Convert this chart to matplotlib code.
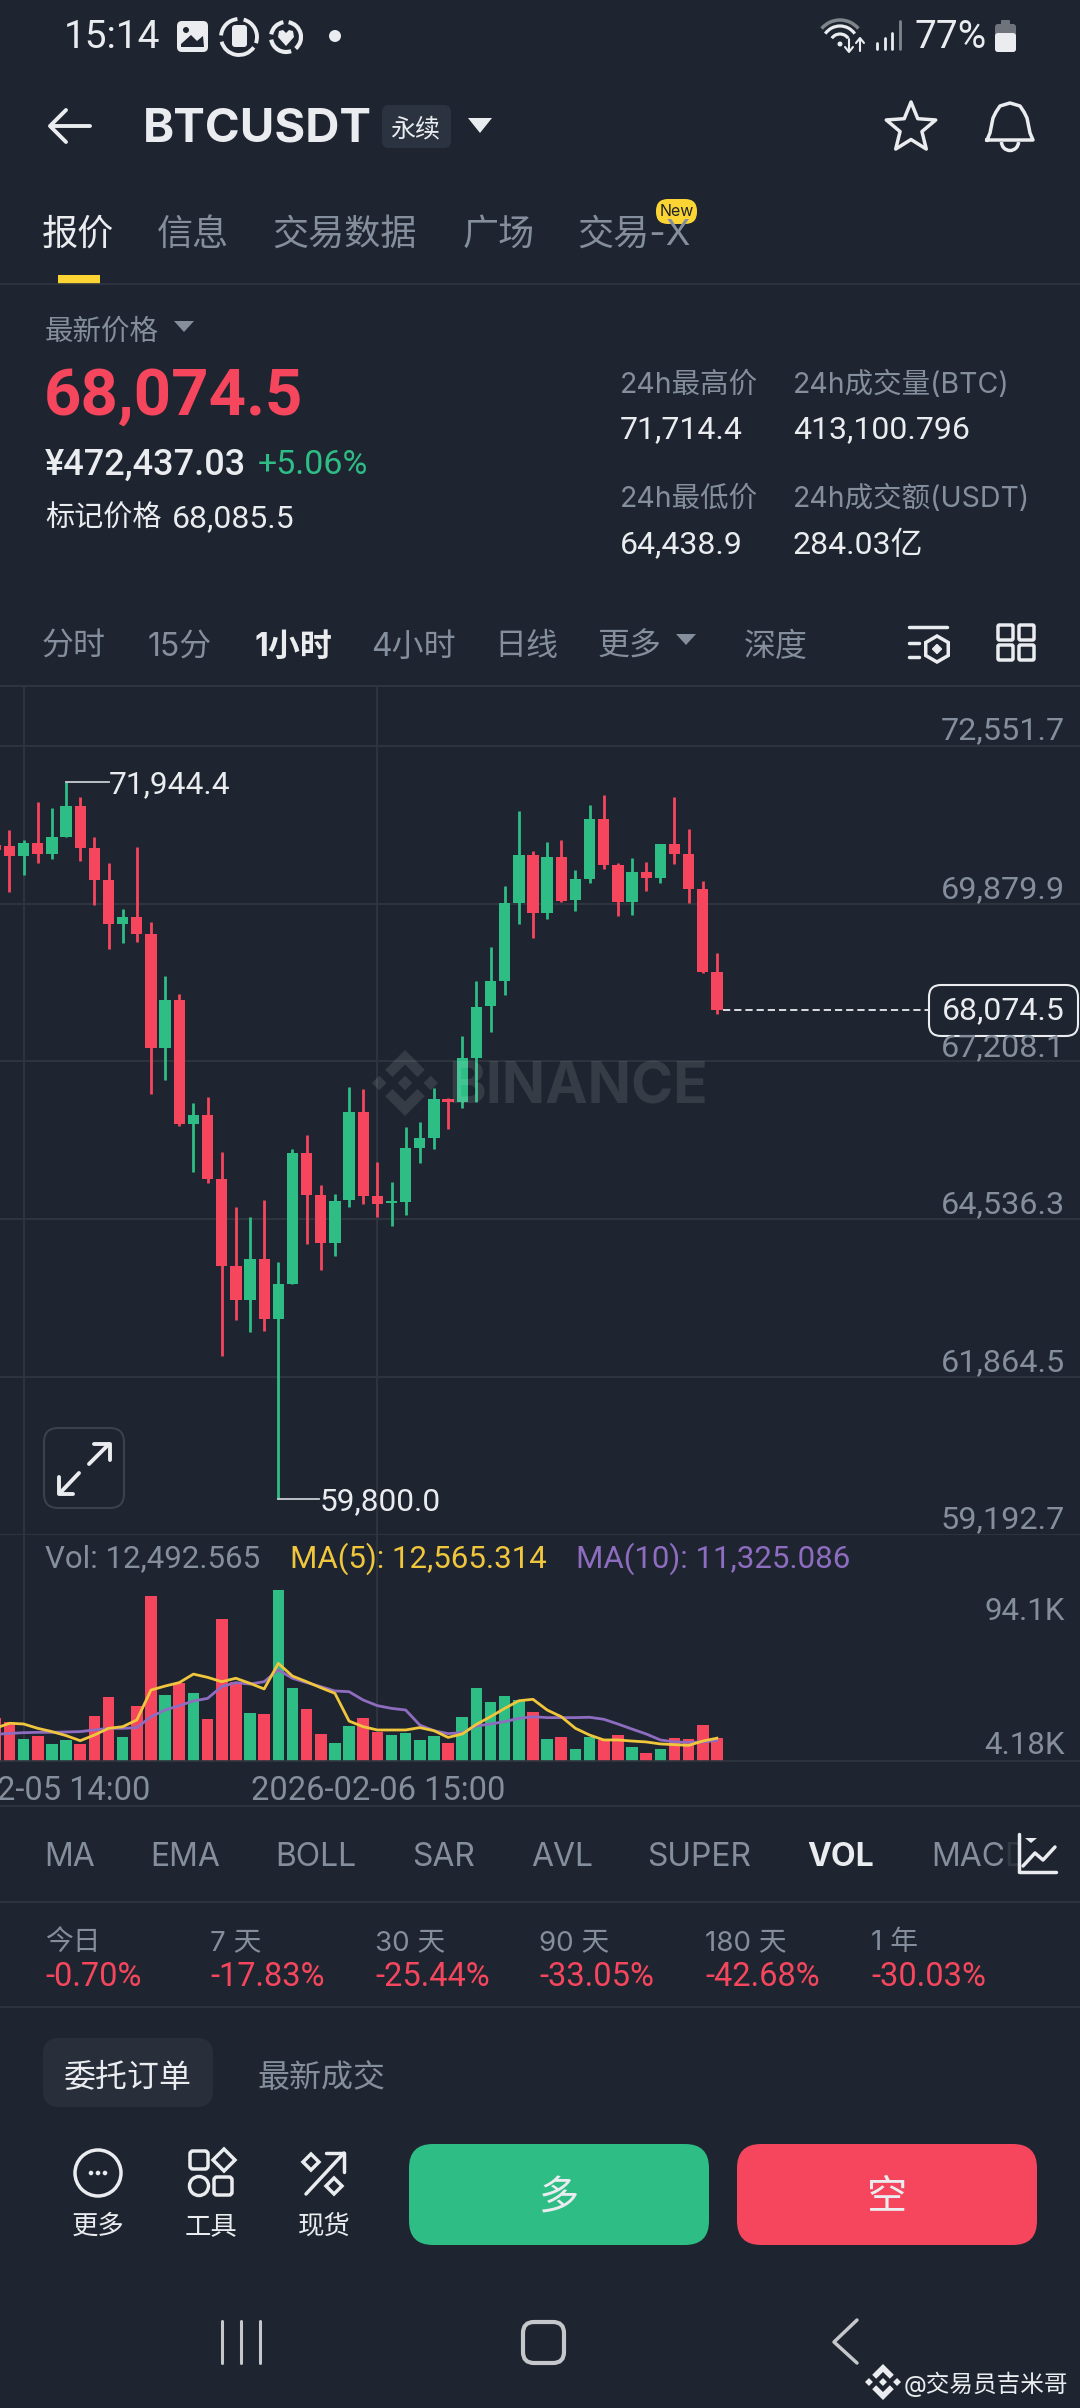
import numpy as np
import matplotlib
matplotlib.use("Agg")
import matplotlib.pyplot as plt
from matplotlib.patches import FancyBboxPatch, Circle, Polygon, Rectangle, Ellipse, Arc

plt.rcParams['font.family'] = ['Inter', 'Noto Sans CJK SC', 'DejaVu Sans']
NUM = ['Roboto', 'Noto Sans CJK SC', 'DejaVu Sans']

BG = '#1e2530'
GRID = '#30363f'
GRAY = '#848e9c'
WHITE = '#eaecef'
RED = '#f6465d'
GREEN = '#2ebd85'
YELLOW = '#f0c63c'
PURPLE = '#8e6cc0'

# hourly candles
opens = [70871, 70860, 70691, 70900, 70713, 71012, 71526, 70815, 70273, 69529, 69653, 69359, 67441,
         68248, 66144, 66302, 65218, 63746, 63170, 63864, 62855, 63447, 65653, 64942, 64130, 64863,
         66352, 64936, 64807, 64835, 65749, 65918, 66578, 66516, 67272, 68141, 68575, 69884, 70696,
         69720, 70668, 69940, 70302, 71311, 70533, 69912, 70420, 70318, 70883, 70719, 70121, 68728]
highs = [71210, 71125, 70956, 71593, 71503, 71944.4, 71689, 71012, 70561, 69788, 70843, 69563, 68654,
         68344, 66499, 66612, 65670, 64750, 64581, 64863, 63808, 65726, 65963, 65117, 64964, 66770,
         66736, 65500, 65162, 66104, 66189, 66753, 66584, 67644, 68575, 69151, 70177, 71447, 70770,
         70916, 70956, 70448, 71543, 71718, 70561, 70657, 70589, 70883, 71689, 71142, 70268, 69049]
lows = [70730, 70082, 70364, 70572, 70629, 71012, 70606, 69856, 69105, 69218, 69235, 66657, 66894,
        66121, 65342, 65145, 62223, 62832, 62623, 62646, 59800, 63447, 64113, 63678, 63915, 64750,
        64795, 64570, 64423, 64609, 65484, 65720, 66065, 66426, 66516, 67712, 68333, 69529, 69292,
        69613, 69912, 69754, 70223, 70459, 69670, 69687, 70093, 70223, 70550, 69884, 68699, 68011]
closes = [70787, 70691, 70900, 70713, 71012, 71526, 70815, 70279, 69529, 69653, 69359, 67441, 68248,
          66144, 66302, 65218, 63746, 63170, 63864, 62855, 63447, 65653, 64942, 64130, 64852, 66352,
          64931, 64795, 64846, 65737, 65918, 66567, 66516, 67261, 68135, 68570, 69884, 70696, 69720,
          70668, 69929, 70302, 71311, 70533, 69912, 70420, 70318, 70883, 70719, 70121, 68728, 68074.5]
volumes = [23514, 21677, 12124, 13961, 9552, 11757, 9552, 24983, 35270, 13226, 30494, 90932, 36373,
           42802, 37475, 22963, 78073, 43721, 26269, 26085, 94100, 40047, 28657, 14880, 10104, 19289,
           23697, 16166, 14145, 15615, 11389, 13778, 10104, 24248, 40047, 32331, 35638, 33617, 26820,
           12124, 13410, 6613, 13043, 11573, 14145, 7532, 4225, 6430, 12859, 12124, 19656, 12492.565]
ma5 = [18.0, 20.8, 20.4, 18.0, 16.2, 14.0, 11.2, 14.3, 18.0, 18.9, 22.6, 39.1, 41.3, 43.2, 47.9, 46.1,
       43.7, 45.6, 42.8, 39.7, 53.8, 46.8, 43.7, 40.4, 37.3, 22.0, 18.9, 17.1, 17.1, 17.1, 18.4, 16.7,
       13.0, 14.9, 20.2, 24.4, 29.0, 33.2, 34.0, 28.1, 24.4, 18.0, 14.3, 11.6, 11.6, 11.0, 10.5, 9.4,
       9.0, 8.6, 11.0, 12.565]
ma10 = [14.7, 15.2, 15.6, 15.8, 15.8, 16.0, 16.2, 17.1, 18.0, 18.0, 18.4, 24.4, 28.1, 30.5, 33.1, 34.5,
        41.0, 43.2, 42.4, 43.7, 50.2, 45.6, 43.2, 41.0, 38.6, 38.2, 33.6, 30.5, 29.0, 28.1, 19.8, 16.7,
        15.1, 15.6, 19.3, 20.4, 21.7, 23.5, 24.4, 23.9, 23.9, 23.9, 24.1, 23.0, 20.4, 17.6, 14.9, 11.6,
        10.5, 10.3, 10.5, 11.325]

price_ticks = [72551.7, 69879.9, 67208.1, 64536.3, 61864.5, 59192.7]
last_price = 68074.5
time_tick_idx = [2, 27]

indicators = ['MA', 'EMA', 'BOLL', 'SAR', 'AVL', 'SUPER', 'VOL', 'MACD']
periods = ['今日', '7 天', '30 天', '90 天', '180 天', '1 年']
period_changes = ['-0.70%', '-17.83%', '-25.44%', '-33.05%', '-42.68%', '-30.03%']
tabs = ['报价', '信息', '交易数据', '广场', '交易-X']
intervals = ['分时', '15分', '1小时', '4小时', '日线', '更多', '深度']

fig = plt.figure(figsize=(10.8, 24.08), dpi=100, facecolor=BG)

# price pane: gridlines sit at the pixel rows of the reference
H = 2408
ax = fig.add_axes([0, 1 - 1535 / H, 1, 850 / H])
ax.set_facecolor('none')
ax.set_xlim(0.33, 76.66)
ax.set_ylim(59192.7, 73579)
ax.axis('off')
for p in price_ticks:
    ax.axhline(p, color=GRID, lw=1.3, zorder=1)
ax.axhline(73579, color=GRID, lw=2, zorder=1)
for i in time_tick_idx:
    ax.axvline(i, color=GRID, lw=1.3, zorder=1)

x = np.arange(len(opens))
opens = np.array(opens)
closes = np.array(closes)
colors = [GREEN if c >= o else RED for o, c in zip(opens, closes)]
ax.vlines(x, lows, highs, colors=colors, lw=2, zorder=3)
ax.bar(x, np.abs(closes - opens), bottom=np.minimum(opens, closes), width=0.8, color=colors, zorder=3)

# high / low markers and last price line
ax.plot([5, 8.0], [71944.4, 71944.4], color='#c8ccd2', lw=1.3, zorder=4)
ax.annotate('71,944.4', (8.02, 71944.4), xytext=(0, -2), textcoords='offset points', color=WHITE,
            fontsize=22.8, family=NUM, va='center', zorder=4)
ax.plot([20, 22.9], [59800, 59800], color='#c8ccd2', lw=1.3, zorder=4)
ax.annotate('59,800.0', (22.9, 59800), xytext=(0, -2), textcoords='offset points', color=WHITE,
            fontsize=22.8, family=NUM, va='center', zorder=4)
ax.plot([51.4, 66], [last_price, last_price], color=WHITE, lw=1.3, ls=(0, (4, 2.2)), zorder=4)

# volume pane
vax = fig.add_axes([0, 1 - 1761 / H, 1, 226 / H])
vax.set_facecolor('none')
vax.set_xlim(0.33, 76.66)
vax.set_ylim(0, 226 * 551.1)
vax.axis('off')
for i in time_tick_idx:
    vax.axvline(i, color=GRID, lw=1.3, zorder=1)
vax.bar(x, volumes, width=0.82, color=colors, zorder=3)
vax.plot(x, np.array(ma10) * 1000, color=PURPLE, lw=2, zorder=4)
vax.plot(x, np.array(ma5) * 1000, color=YELLOW, lw=2, zorder=5)

# everything else is placed in screen pixels
ui = fig.add_axes([0, 0, 1, 1], zorder=10)
ui.set_facecolor('none')
ui.set_xlim(0, 1080)
ui.set_ylim(H, 0)
ui.axis('off')


def txt(px, py, s, size, color=WHITE, ha='left', **kw):
    return ui.text(px, py + 6, s, fontsize=size, color=color, ha=ha, va='center', **kw)


def num(px, py, s, size, color=WHITE, ha='left', **kw):
    return txt(px, py, s, size, color, ha, family=NUM, **kw)


def rbox(px, py, w, h, r, **kw):
    ui.add_patch(FancyBboxPatch((px + r, py + r), w - 2 * r, h - 2 * r, boxstyle=f'round,pad={r}', **kw))


def line(xs, ys, color=WHITE, lw=2, **kw):
    ui.plot(xs, ys, color=color, lw=lw, solid_capstyle='round', **kw)


def tri(px, py, w, h, color):
    ui.add_patch(Polygon([(px, py), (px + w, py), (px + w / 2, py + h)], color=color, lw=0))


def diamond(cx, cy, r, **kw):
    ui.add_patch(Polygon([(cx - r, cy), (cx, cy - r), (cx + r, cy), (cx, cy + r)], **kw))


def logo(cx, cy, s, **kw):
    top = np.array([(0, -1), (.6, -.4), (.38, -.18), (0, -.56), (-.38, -.18), (-.6, -.4)])
    for sign in [1, -1]:
        ui.add_patch(Polygon(np.c_[cx + s * top[:, 0], cy + sign * s * top[:, 1]], **kw))
    for dx in [-.78, 0, .78]:
        diamond(cx + dx * s, cy, .22 * s, **kw)


def ring(cx, cy, r, lw, gaps):
    # ring broken by a few short gaps, angles in degrees
    for a, b in gaps:
        ui.add_patch(Arc((cx, cy), 2 * r, 2 * r, theta1=a, theta2=b, color=WHITE, lw=lw))


# separators
for yy in [284, 1806, 1902, 2007]:
    ui.plot([0, 1080], [yy, yy], color=GRID, lw=1.2)
ui.plot([0, 1080], [1761, 1761], color=GRID, lw=1.2)

# status bar
num(64, 32, '15:14', 28, WHITE)
rbox(177, 21, 31, 31, 5, fc=WHITE, ec='none')
ui.add_patch(Polygon([(181, 47), (181, 44), (191, 35), (197, 41), (203, 36), (204, 47)], fc=BG, ec='none'))
ui.add_patch(Circle((186, 30), 3, fc=BG, ec='none'))
ring(239, 37, 18, 2.8, [(-75, 20), (35, 165), (185, 265)])
rbox(232, 25, 15, 22, 3, fc=WHITE, ec='none')
ring(286, 37, 15, 3, [(-80, 50), (70, 170), (190, 260)])
ui.add_patch(Polygon([(286, 46), (278, 37), (279, 31), (283, 30), (286, 33), (289, 30), (293, 31), (294, 37)], fc=WHITE, ec='none'))
ui.add_patch(Circle((335, 36), 6, fc=WHITE, ec='none'))
ui.add_patch(Arc((840, 44), 48, 48, theta1=220, theta2=320, color='#80858c', lw=2.5))
for r in [18, 10]:
    ui.add_patch(Arc((840, 44), 2 * r, 2 * r, theta1=215, theta2=325, color=WHITE, lw=2.3))
ui.add_patch(Circle((840, 44), 2.5, fc=WHITE, ec='none'))
line([849, 849], [39, 51], lw=1.5)
line([845, 849, 853], [47, 52, 47], lw=1.5)
line([860, 860], [39, 51], lw=1.5)
line([856, 860, 864], [43, 38, 43], lw=1.5)
for k, top in enumerate([43, 38, 33, 21]):
    line([877 + k * 7.6] * 2, [top, 49], color=WHITE if k < 3 else '#80858c', lw=2)
num(914, 32, '77%', 28, WHITE)
rbox(995, 24, 21, 28, 3, fc='#6f747c', ec='none')
rbox(1001, 20, 9, 6, 1, fc='#6f747c', ec='none')
rbox(995, 33, 21, 19, 3, fc=WHITE, ec='none')

# title row
line([51, 90], [126, 126], lw=2.8)
line([66, 50, 66], [110, 126, 142], lw=2.8)
txt(143, 124, 'BTCUSDT', 34, WHITE, fontweight='bold')
rbox(382, 105, 69, 43, 7, fc='#2b3240', ec='none')
txt(415, 124, '永续', 18, WHITE, ha='center')
tri(468, 118, 24, 15, WHITE)
star_a = np.deg2rad(np.arange(-90, 270, 36))
star_r = np.tile([26, 11.5], 5)
ui.add_patch(Polygon(np.c_[911 + star_r * np.cos(star_a), 128 + star_r * np.sin(star_a)], fc='none', ec=WHITE, lw=2.5, joinstyle='round'))
ui.plot([987, 990, 993, 996, 1000, 1010, 1020, 1024, 1027, 1030, 1033, 987],
        [140, 133, 118, 112, 106, 103, 106, 112, 118, 133, 140, 140], color=WHITE, lw=2.5)
ui.add_patch(Arc((1010, 142), 17, 17, theta1=0, theta2=180, color=WHITE, lw=2.5))

# tabs
tab_x = [42, 157, 272, 463, 577]
for k, (t, tx) in enumerate(zip(tabs, tab_x)):
    txt(tx, 229, t, 26, WHITE if k == 0 else GRAY)
ui.add_patch(Rectangle((58, 275), 42, 9, fc='#fcd535', ec='none'))
rbox(656, 199, 41, 25, 12, fc='#fcd535', ec='none')
txt(676.5, 206, 'New', 11.5, '#1e2329', ha='center')

# price block
txt(45, 326, '最新价格', 20.5, GRAY)
tri(174, 321, 20, 11, GRAY)
num(44, 391, '68,074.5', 47, RED, fontweight='bold')
num(45, 459, '¥472,437.03', 26, WHITE, fontweight='medium')
num(258, 459, '+5.06%', 24.5, GREEN)
txt(45, 513, '标记价格', 21, WHITE)
num(172, 513, '68,085.5', 23, WHITE)
for px, py, s in [(620, 379, '24h最高价'), (793, 379, '24h成交量(BTC)'), (620, 493, '24h最低价'), (793, 493, '24h成交额(USDT)')]:
    txt(px, py, s, 20.5, GRAY)
for px, py, s in [(620, 424, '71,714.4'), (793, 424, '413,100.796'), (620, 539, '64,438.9'), (793, 539, '284.03亿')]:
    num(px, py, s, 23, WHITE)

# interval row
int_x = [42, 148, 255, 371, 494, 597, 744]
for t, tx in zip(intervals, int_x):
    if t == '1小时':
        txt(tx, 641, t, 23, WHITE, fontweight='bold')
    else:
        txt(tx, 641, t, 23, GRAY)
tri(676, 634, 20, 11, GRAY)
line([909, 947], [627, 627], lw=2.5)
line([909, 919], [643, 643], lw=2.5)
line([909, 919], [657, 657], lw=2.5)
hex_a = np.deg2rad(np.arange(-90, 270, 60))
ui.add_patch(Polygon(np.c_[937 + 13 * np.cos(hex_a), 649 + 13 * np.sin(hex_a)], fc='none', ec=WHITE, lw=2.5))
diamond(937, 649, 4.5, fc=WHITE, ec=WHITE)
for bx, by in [(998, 625), (1019, 625), (998, 645), (1019, 645)]:
    rbox(bx, by, 15, 15, 1.5, fc='none', ec=WHITE, lw=2.5)

# axis labels
for p, py in zip(price_ticks, [725, 884, 1042, 1199, 1357, 1514]):
    num(1065, py, f'{p:,.1f}', 23.3, GRAY, ha='right')
rbox(929, 985, 149, 51, 12, fc=BG, ec=WHITE, lw=1.5)
num(1003, 1005, f'{last_price:,.1f}', 23, WHITE, ha='center')

# watermark
logo(405, 1083, 33, fc='white', alpha=0.11, ec='none')
txt(448, 1076 + 6, 'BINANCE', 41, 'white', alpha=0.11, fontweight='bold')

# expand button
rbox(44, 1428, 80, 80, 14, fc=BG, ec='#3a414d', lw=1.5)
line([89, 109], [1464, 1444], lw=2.8)
line([94, 110, 110], [1444, 1444, 1460], lw=2.8)
line([79, 60], [1473, 1493], lw=2.8)
line([59, 59, 73], [1477, 1494, 1494], lw=2.8)

# volume legend and ticks
num(45, 1553, 'Vol: 12,492.565', 22.5, GRAY)
num(290, 1553, 'MA(5): 12,565.314', 22.5, YELLOW)
num(576, 1553, 'MA(10): 11,325.086', 22.5, PURPLE)
num(1065, 1605, '94.1K', 22.5, GRAY, ha='right')
num(1065, 1739, '4.18K', 22.5, GRAY, ha='right')
num(150, 1785, '2-05 14:00', 23.5, GRAY, ha='right')
num(378, 1785, '2026-02-06 15:00', 23.5, GRAY, ha='center')

# indicators row
ind_x = [44, 150, 275, 412, 531, 647, 807, 931]
for t, tx in zip(indicators, ind_x):
    if t == 'VOL':
        txt(tx, 1851, t, 23, WHITE, fontweight='bold')
    else:
        txt(tx, 1851, t, 23, GRAY)
# MACD runs under the chart icon and fades out
ui.add_patch(Rectangle((1003, 1810), 77, 88, fc=BG, ec='none', alpha=0.82, zorder=5))
ui.add_patch(Rectangle((1019, 1810), 61, 88, fc=BG, ec='none', zorder=5))
line([1019, 1019, 1056], [1834, 1872, 1872], lw=2.5, zorder=6)
line([1023, 1035, 1043, 1055], [1866, 1853, 1860, 1847], lw=2.5, zorder=6)
ui.add_patch(Polygon([(1025, 1838), (1037, 1838), (1031, 1843)], fc=WHITE, ec='none', zorder=6))

# performance row
perf_x = [45, 210, 375, 539, 705, 871]
for t, v, px in zip(periods, period_changes, perf_x):
    txt(px, 1937, t, 20, GRAY)
    num(px, 1971, v, 23.5, RED)

# order tabs
rbox(43, 2038, 170, 69, 16, fc='#282e3a', ec='none')
txt(128, 2072, '委托订单', 23, WHITE, ha='center')
txt(321, 2072, '最新成交', 23, GRAY, ha='center')

# bottom action bar
ui.add_patch(Circle((98, 2173), 23, fc='none', ec=WHITE, lw=2.5))
for dx in [-7, 0, 7]:
    ui.add_patch(Circle((98 + dx, 2173), 2.3, fc=WHITE, ec='none'))
rbox(190, 2151, 18, 18, 3, fc='none', ec=WHITE, lw=2.5)
diamond(224, 2160, 11, fc='none', ec=WHITE, lw=2.5)
ui.add_patch(Ellipse((199, 2186), 19, 19, fc='none', ec=WHITE, lw=2.5))
rbox(214, 2177, 18, 18, 3, fc='none', ec=WHITE, lw=2.5)
diamond(311, 2162, 8, fc='none', ec=WHITE, lw=2.5)
diamond(334, 2186, 8, fc='none', ec=WHITE, lw=2.5)
line([306, 344], [2194, 2153], lw=2.5)
line([326, 344, 344], [2153, 2153, 2172], lw=2.5)
txt(98, 2221, '更多', 19, WHITE, ha='center')
txt(211, 2221, '工具', 19, WHITE, ha='center')
txt(324, 2221, '现货', 19, WHITE, ha='center')
rbox(409, 2144, 300, 101, 24, fc=GREEN, ec='none')
rbox(737, 2144, 300, 101, 24, fc=RED, ec='none')
txt(559, 2193, '多', 29, WHITE, ha='center')
txt(887, 2193, '空', 29, WHITE, ha='center')

# navigation bar
for nx in [222, 241, 260]:
    line([nx, nx], [2321, 2363], color='#c5c7ca', lw=2.2)
rbox(523, 2322, 41, 41, 11, fc='none', ec='#c5c7ca', lw=3)
line([857, 834, 857], [2320, 2342, 2363], color='#c5c7ca', lw=2.5)

# source mark
logo(883, 2382, 18, fc=WHITE, ec='none')
txt(904, 2378, '@交易员吉米哥', 17, WHITE)

fig.savefig('out.png', dpi=100, facecolor=BG)
